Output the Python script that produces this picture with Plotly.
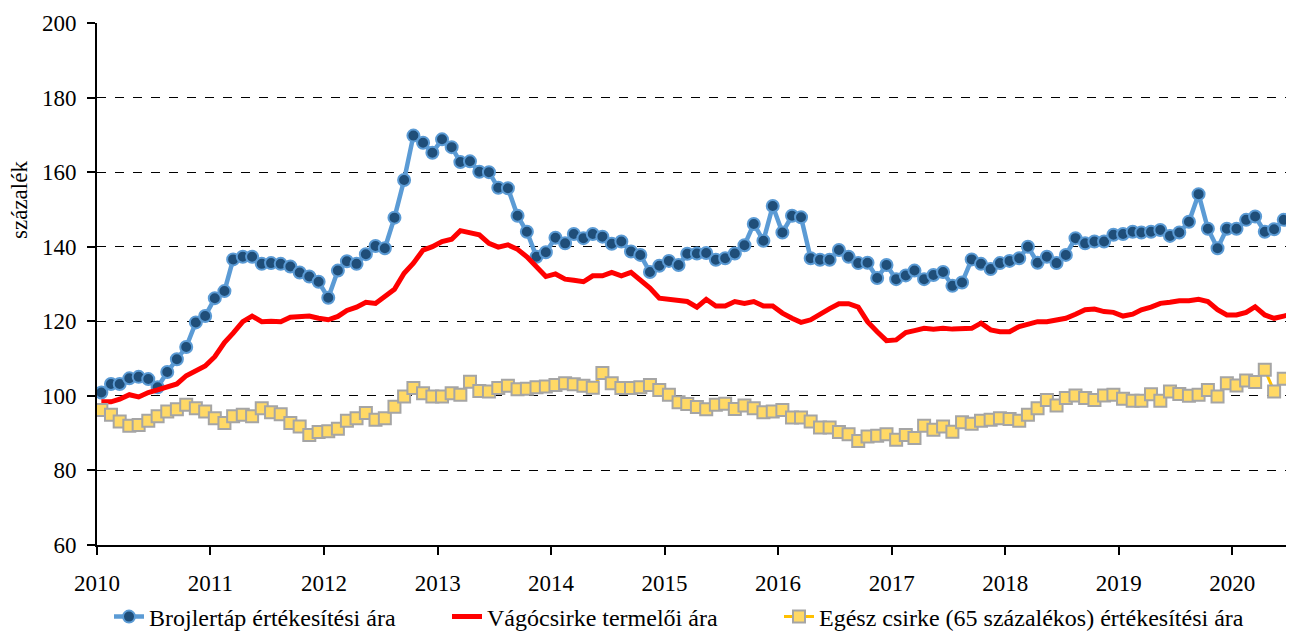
import pandas as pd
import plotly.graph_objects as go

# havi adatok, 2010. január - 2020. július
brojlertap = [
    100.9, 103.2, 103.2, 104.7, 105.1, 104.5, 102.3, 106.4, 109.8, 113.1, 119.7, 121.4,
    126.2, 128.1, 136.6, 137.3, 137.3, 135.4, 135.6, 135.4, 134.7, 133.1, 132.0, 130.6,
    126.3, 133.6, 136.1, 135.4, 138.0, 140.2, 139.6, 147.8, 157.9, 169.8, 167.9, 165.2,
    168.8, 166.7, 162.7, 162.9, 160.1, 160.0, 155.8, 155.7, 148.3, 144.0, 137.3, 138.5,
    142.4, 140.9, 143.4, 142.3, 143.4, 142.7, 140.8, 141.4, 138.7, 137.8, 133.2, 134.9,
    136.2, 135.1, 138.1, 138.2, 138.3, 136.5, 136.9, 138.2, 140.4, 146.1, 141.6, 150.9,
    143.8, 148.3, 147.9, 136.9, 136.5, 136.5, 139.1, 137.3, 135.6, 135.7, 131.6, 135.1,
    131.3, 132.3, 133.6, 131.3, 132.4, 133.2, 129.5, 130.4, 136.6, 135.4, 134.0, 135.6,
    136.2, 136.9, 140.0, 135.7, 137.3, 135.6, 137.8, 142.3, 140.9, 141.4, 141.4, 143.2,
    143.4, 144.0, 143.8, 144.0, 144.5, 142.9, 143.8, 146.7, 154.1, 144.8, 139.6, 144.8,
    144.8, 147.2, 148.1, 144.0, 144.7, 147.2, 150.9,
]

vagocsirke = [
    98.4, 98.4, 99.1, 100.3, 99.7, 100.9, 101.6, 102.3, 103.2, 105.4, 106.8, 108.0,
    110.5, 114.3, 116.8, 119.9, 121.4, 119.9, 120.0, 119.9, 121.1, 121.1, 121.4, 120.8,
    120.4, 121.3, 122.9, 123.8, 125.1, 124.8, 126.6, 128.6, 132.9, 135.6, 139.1, 140.0,
    141.4, 142.0, 144.3, 143.8, 143.2, 140.9, 139.9, 140.5, 139.3, 137.3, 134.7, 132.0,
    132.7, 131.3, 131.0, 130.6, 132.2, 132.2, 133.1, 132.2, 133.1, 131.1, 128.9, 126.2,
    125.9, 125.3, 125.3, 123.8, 125.9, 124.1, 124.1, 125.3, 124.8, 125.3, 124.1, 124.1,
    122.2, 120.8, 119.7, 120.4, 122.0, 123.4, 124.7, 124.7, 123.8, 119.9, 117.2, 114.8,
    115.0, 117.0, 117.5, 118.1, 117.9, 118.1, 117.9, 118.1, 118.1, 119.5, 117.7, 117.2,
    117.2, 118.6, 119.3, 119.9, 119.9, 120.4, 120.8, 121.9, 123.1, 123.3, 122.6, 122.4,
    121.4, 121.9, 123.1, 123.8, 124.8, 125.1, 125.5, 125.5, 125.9, 125.3, 123.1, 121.7,
    121.7, 122.4, 123.9, 121.7, 120.8, 121.4, 122.0,
]

egesz_csirke = [
    96.2, 94.9, 93.1, 92.0, 92.2, 93.3, 94.5, 95.8, 96.4, 97.6, 96.7, 95.8,
    94.0, 92.7, 94.5, 94.9, 94.5, 96.7, 95.6, 95.1, 92.7, 91.8, 89.5, 90.3,
    90.5, 91.2, 93.3, 94.0, 95.4, 93.6, 94.0, 97.1, 99.8, 102.1, 100.7, 99.8,
    99.8, 100.7, 100.3, 103.8, 101.3, 101.2, 102.1, 102.7, 101.8, 101.9, 102.3, 102.5,
    102.9, 103.4, 103.1, 102.7, 102.2, 106.1, 103.4, 102.1, 102.1, 102.3, 102.9, 101.6,
    100.3, 98.3, 97.8, 97.0, 96.4, 97.6, 97.9, 96.5, 97.4, 96.7, 95.6, 95.8,
    96.2, 94.2, 94.2, 93.1, 91.5, 91.5, 90.3, 89.7, 87.9, 89.1, 89.3, 89.7,
    88.2, 89.5, 88.7, 92.0, 90.9, 91.8, 90.4, 92.9, 92.5, 93.3, 93.6, 94.0,
    93.8, 93.3, 94.9, 96.7, 98.9, 97.4, 99.4, 100.1, 99.4, 98.9, 100.1, 100.3,
    99.2, 98.7, 98.7, 100.4, 98.7, 101.2, 100.5, 100.0, 100.3, 101.6, 99.8, 103.4,
    102.8, 104.1, 103.7, 107.0, 101.2, 104.6, 102.1,
]

# hónap közepére téve a pontokat
dates = pd.date_range('2010-01-01', periods=len(brojlertap), freq='MS') + pd.Timedelta(days=14)

FONT = 'Liberation Serif, Times New Roman, serif'
# az oldal body 8 px-es margója miatt kisebb ábra
PAGE_OFF = 8
W, H = 1294 - PAGE_OFF, 634 - PAGE_OFF
PLOT_H = 522


def legend_at(text_left):
    # egy-egy jelmagyarázat elem, a szöveg bal széle pixelben (oldalon)
    return dict(
        orientation='h',
        xref='container', yref='paper',
        x=(text_left - PAGE_OFF - 41) / W, xanchor='left',
        y=-72 / PLOT_H, yanchor='middle',
        font=dict(family=FONT, size=24, color='black'),
        bgcolor='rgba(0,0,0,0)',
    )


fig = go.Figure()

fig.add_trace(go.Scatter(
    x=dates, y=brojlertap,
    mode='lines+markers',
    name='Brojlertáp értékesítési ára',
    legend='legend',
    line=dict(color='#5B9BD5', width=4.5),
    marker=dict(symbol='circle', size=12, color='#1F4E79',
                line=dict(color='#5B9BD5', width=2)),
))

fig.add_trace(go.Scatter(
    x=dates, y=vagocsirke,
    mode='lines',
    name='Vágócsirke termelői ára',
    legend='legend2',
    line=dict(color='#FF0000', width=5),
))

fig.add_trace(go.Scatter(
    x=dates, y=egesz_csirke,
    mode='lines+markers',
    name='Egész csirke (65 százalékos) értékesítési ára',
    legend='legend3',
    line=dict(color='#FFC000', width=3),
    marker=dict(symbol='square', size=12, color='#FFD966',
                line=dict(color='#A5A5A5', width=2)),
))

fig.update_layout(
    width=W, height=H,
    margin=dict(l=89, r=0, t=15, b=H - 15 - PLOT_H, autoexpand=False),
    paper_bgcolor='white',
    plot_bgcolor='white',
    font=dict(family=FONT, size=23, color='black'),
    showlegend=True,
    legend=legend_at(150),
    legend2=legend_at(488),
    legend3=legend_at(820),
    annotations=[dict(
        text='százalék', textangle=-90,
        xref='paper', yref='paper',
        x=-0.0643, y=0.661,
        xanchor='center', yanchor='middle',
        showarrow=False,
        font=dict(family=FONT, size=23),
    )],
)

fig.update_xaxes(
    type='date',
    range=['2010-01-01', '2020-07-18'],
    dtick='M12', tick0='2010-01-01', tickformat='%Y',
    showgrid=False,
    showline=True, linecolor='black', linewidth=2,
    ticks='outside', ticklen=8, tickwidth=2, tickcolor='black',
    ticklabelstandoff=8,
    zeroline=False,
)

fig.update_yaxes(
    range=[60, 200], dtick=20,
    showgrid=True, gridcolor='black', gridwidth=1, griddash='dash',
    showline=True, linecolor='black', linewidth=2,
    ticks='outside', ticklen=8, tickwidth=2, tickcolor='black',
    ticklabelstandoff=6,
    zeroline=False,
)

fig.write_html('out.html')
